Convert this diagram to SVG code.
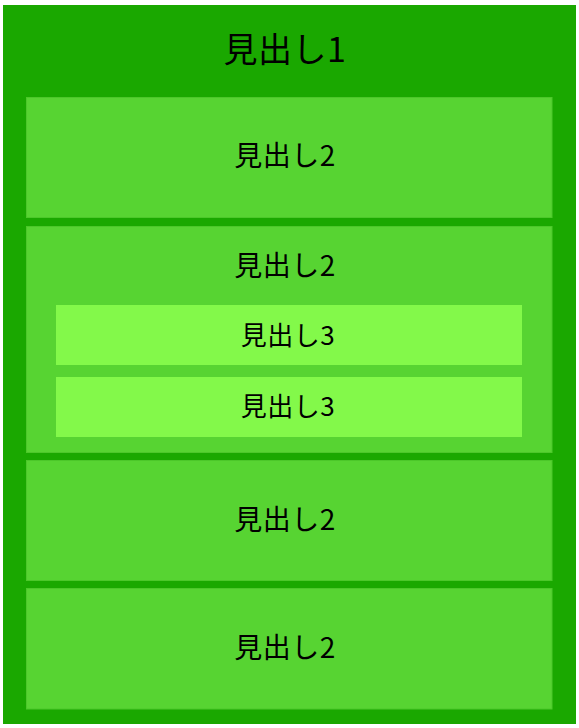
<svg xmlns="http://www.w3.org/2000/svg" width="579" height="728" viewBox="0 0 579 728">
<style>
.t{font-family:"Noto Sans CJK JP","Noto Sans",sans-serif;fill:#000;text-anchor:middle}
.h1{fill:#1aa800}
.h2{fill:#57d432;stroke:#4cc72a;stroke-width:1}
.h3{fill:#83f94a}
</style>
<rect width="579" height="728" fill="#ffffff"/>
<g id="h1">
<rect class="h1" x="3" y="5" width="573" height="719"/>
<text class="t" x="285" y="62" font-size="34" letter-spacing="0.5">見出し1</text>
</g>
<g id="h2-a">
<rect class="h2" x="26.5" y="97.5" width="525.5" height="120"/>
<text class="t" x="285" y="166" font-size="28" letter-spacing="0.5">見出し2</text>
</g>
<g id="h2-b">
<rect class="h2" x="26.5" y="226.5" width="525.5" height="226"/>
<text class="t" x="285" y="276" font-size="28" letter-spacing="0.5">見出し2</text>
<g id="h3-a">
<rect class="h3" x="56" y="305" width="466" height="60"/>
<text class="t" x="288" y="345" font-size="26" letter-spacing="0.5">見出し3</text>
</g>
<g id="h3-b">
<rect class="h3" x="56" y="377" width="466" height="60"/>
<text class="t" x="288" y="416" font-size="26" letter-spacing="0.5">見出し3</text>
</g>
</g>
<g id="h2-c">
<rect class="h2" x="26.5" y="460.5" width="525.5" height="120"/>
<text class="t" x="285" y="529.5" font-size="28" letter-spacing="0.5">見出し2</text>
</g>
<g id="h2-d">
<rect class="h2" x="26.5" y="588.5" width="525.5" height="120.5"/>
<text class="t" x="285" y="657.5" font-size="28" letter-spacing="0.5">見出し2</text>
</g>
<g id="connectors"/>
</svg>
